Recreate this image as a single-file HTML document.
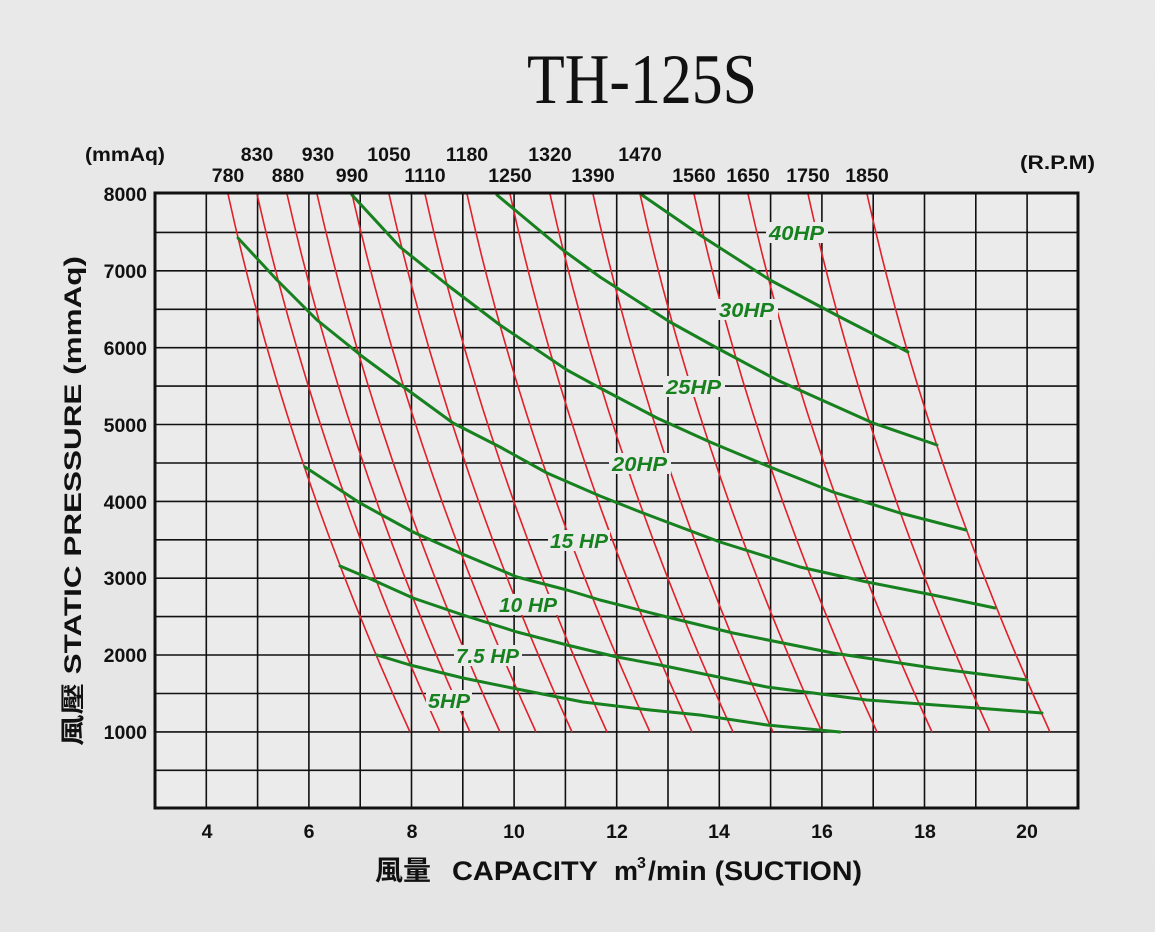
<!DOCTYPE html>
<html><head><meta charset="utf-8"><style>
html,body{margin:0;padding:0;background:#e7e7e7;}
svg{display:block;}
</style></head><body>
<svg width="1155" height="932" viewBox="0 0 1155 932" xmlns="http://www.w3.org/2000/svg">
<defs>
<linearGradient id="bg" x1="0" y1="0" x2="0" y2="1">
<stop offset="0" stop-color="#e9e9e9"/><stop offset="1" stop-color="#e5e5e5"/>
</linearGradient>
</defs>
<rect width="1155" height="932" fill="url(#bg)"/>
<rect x="155" y="193" width="923" height="615" fill="#ebebeb"/>
<text x="527" y="103" font-family="Liberation Serif, serif" font-size="71" fill="#111" textLength="230" lengthAdjust="spacingAndGlyphs">TH-125S</text>

<g stroke="#111" stroke-width="1.6">
<line x1="155" x2="1078" y1="232.4" y2="232.4"/><line x1="155" x2="1078" y1="270.8" y2="270.8"/>
<line x1="155" x2="1078" y1="309.3" y2="309.3"/><line x1="155" x2="1078" y1="347.7" y2="347.7"/>
<line x1="155" x2="1078" y1="386.1" y2="386.1"/><line x1="155" x2="1078" y1="424.5" y2="424.5"/>
<line x1="155" x2="1078" y1="463" y2="463"/><line x1="155" x2="1078" y1="501.4" y2="501.4"/>
<line x1="155" x2="1078" y1="539.8" y2="539.8"/><line x1="155" x2="1078" y1="578.2" y2="578.2"/>
<line x1="155" x2="1078" y1="616.6" y2="616.6"/><line x1="155" x2="1078" y1="655" y2="655"/>
<line x1="155" x2="1078" y1="693.5" y2="693.5"/><line x1="155" x2="1078" y1="731.9" y2="731.9"/>
<line x1="155" x2="1078" y1="770.3" y2="770.3"/>
<line y1="193" y2="808" x1="206.3" x2="206.3"/><line y1="193" y2="808" x1="257.6" x2="257.6"/>
<line y1="193" y2="808" x1="308.9" x2="308.9"/><line y1="193" y2="808" x1="360.2" x2="360.2"/>
<line y1="193" y2="808" x1="411.5" x2="411.5"/><line y1="193" y2="808" x1="462.8" x2="462.8"/>
<line y1="193" y2="808" x1="514.1" x2="514.1"/><line y1="193" y2="808" x1="565.4" x2="565.4"/>
<line y1="193" y2="808" x1="616.7" x2="616.7"/><line y1="193" y2="808" x1="668" x2="668"/>
<line y1="193" y2="808" x1="719.3" x2="719.3"/><line y1="193" y2="808" x1="770.6" x2="770.6"/>
<line y1="193" y2="808" x1="821.9" x2="821.9"/><line y1="193" y2="808" x1="873.2" x2="873.2"/>
<line y1="193" y2="808" x1="924.5" x2="924.5"/><line y1="193" y2="808" x1="975.8" x2="975.8"/>
<line y1="193" y2="808" x1="1027.1" x2="1027.1"/>
</g>

<g stroke="#e0202a" stroke-width="1.6" fill="none">
<path d="M228,194 Q287,463 410,732"/>
<path d="M257,194 Q318,463 440,732"/>
<path d="M287,194 Q348,463 470,732"/>
<path d="M317,194 Q378,463 500,732"/>
<path d="M352,194 Q413,463 536,732"/>
<path d="M389,194 Q450,463 572,732"/>
<path d="M425,194 Q485,463 607,732"/>
<path d="M467,194 Q527,463 650,732"/>
<path d="M510,194 Q569,463 692,732"/>
<path d="M550,194 Q610,463 733,732"/>
<path d="M593,194 Q652,463 773,732"/>
<path d="M640,194 Q700,463 822,732"/>
<path d="M694,194 Q753,463 877,732"/>
<path d="M748,194 Q808,463 932,732"/>
<path d="M808,194 Q867,463 990,732"/>
<path d="M867,194 Q927,463 1050,732"/>
</g>

<g stroke="#17801f" stroke-width="3" fill="none" stroke-linejoin="round" stroke-linecap="round">
<polyline points="642,195 703,237 770,280 840,317 908,352"/>
<polyline points="497,195 563,250 600,277 670,322 717,348 777,380 873,423 937,445"/>
<polyline points="352,195 400,247 450,287 500,325 567,370 600,388 657,418 710,442 770,467 833,492 900,513 966,530"/>
<polyline points="238,238 277,280 317,320 363,357 405,388 453,423 500,447 547,473 600,496 643,513 720,542 800,567 867,582 933,595 995,608"/>
<polyline points="305,467 360,503 413,532 460,553 517,577 567,590 600,600 667,617 733,633 833,653 933,668 1027,680"/>
<polyline points="340,566 373,580 413,598 463,615 517,632 567,645 617,657 660,665 767,687 867,700 977,708 1042,713"/>
<polyline points="377,655 410,665 463,678 517,689 583,702 650,710 700,715 767,725 840,732"/>
</g>

<rect x="155" y="193" width="923" height="615" fill="none" stroke="#111" stroke-width="3"/>

<g font-family="Liberation Sans, sans-serif" font-weight="bold" font-style="italic" font-size="20" fill="#17801f">
<rect x="766" y="222" width="62" height="21" fill="#ebebeb"/><text x="769" y="240" textLength="55" lengthAdjust="spacingAndGlyphs">40HP</text>
<rect x="716" y="299" width="62" height="21" fill="#ebebeb"/><text x="719" y="317" textLength="55" lengthAdjust="spacingAndGlyphs">30HP</text>
<rect x="663" y="376" width="62" height="21" fill="#ebebeb"/><text x="666" y="394" textLength="55" lengthAdjust="spacingAndGlyphs">25HP</text>
<rect x="609" y="453" width="62" height="21" fill="#ebebeb"/><text x="612" y="471" textLength="55" lengthAdjust="spacingAndGlyphs">20HP</text>
<rect x="548" y="530" width="62" height="21" fill="#ebebeb"/><text x="550" y="548" textLength="58" lengthAdjust="spacingAndGlyphs">15 HP</text>
<rect x="497" y="594" width="62" height="21" fill="#ebebeb"/><text x="499" y="612" textLength="58" lengthAdjust="spacingAndGlyphs">10 HP</text>
<rect x="454" y="645" width="68" height="21" fill="#ebebeb"/><text x="456" y="663" textLength="63" lengthAdjust="spacingAndGlyphs">7.5 HP</text>
<rect x="426" y="690" width="46" height="21" fill="#ebebeb"/><text x="428" y="708" textLength="42" lengthAdjust="spacingAndGlyphs">5HP</text>
</g>

<g font-family="Liberation Sans, sans-serif" font-weight="bold" font-size="19.5" fill="#111">
<g text-anchor="end">
<text x="147" y="201">8000</text><text x="147" y="278">7000</text><text x="147" y="355">6000</text>
<text x="147" y="432">5000</text><text x="147" y="509">4000</text><text x="147" y="585">3000</text>
<text x="147" y="662">2000</text><text x="147" y="739">1000</text>
</g>
<g text-anchor="middle">
<text x="207" y="838">4</text><text x="309" y="838">6</text><text x="412" y="838">8</text>
<text x="514" y="838">10</text><text x="617" y="838">12</text><text x="719" y="838">14</text>
<text x="822" y="838">16</text><text x="925" y="838">18</text><text x="1027" y="838">20</text>
<text x="257" y="161">830</text><text x="318" y="161">930</text><text x="389" y="161">1050</text>
<text x="467" y="161">1180</text><text x="550" y="161">1320</text><text x="640" y="161">1470</text>
<text x="228" y="182">780</text><text x="288" y="182">880</text><text x="352" y="182">990</text>
<text x="425" y="182">1110</text><text x="510" y="182">1250</text><text x="593" y="182">1390</text>
<text x="694" y="182">1560</text><text x="748" y="182">1650</text><text x="808" y="182">1750</text>
<text x="867" y="182">1850</text>
</g>
<text x="85" y="161" textLength="80" lengthAdjust="spacingAndGlyphs">(mmAq)</text>
<text x="1020" y="169" textLength="75" lengthAdjust="spacingAndGlyphs">(R.P.M)</text>
</g>

<text transform="translate(81,746) rotate(-90)" font-family="Liberation Sans, 'Noto Sans CJK TC', sans-serif" font-weight="bold" font-size="24" fill="#111" textLength="490" lengthAdjust="spacingAndGlyphs">風壓  STATIC  PRESSURE   (mmAq)</text>
<g font-family="Liberation Sans, 'Noto Sans CJK TC', sans-serif" font-weight="bold" fill="#111">
<text x="375" y="880" font-size="27" textLength="56" lengthAdjust="spacingAndGlyphs">風量</text>
<text x="452" y="880" font-size="27" textLength="146" lengthAdjust="spacingAndGlyphs">CAPACITY</text>
<text x="614" y="880" font-size="27">m</text>
<text x="637" y="868" font-size="16">3</text>
<text x="648" y="880" font-size="27" textLength="214" lengthAdjust="spacingAndGlyphs">/min (SUCTION)</text>
</g>
</svg>
</body></html>
